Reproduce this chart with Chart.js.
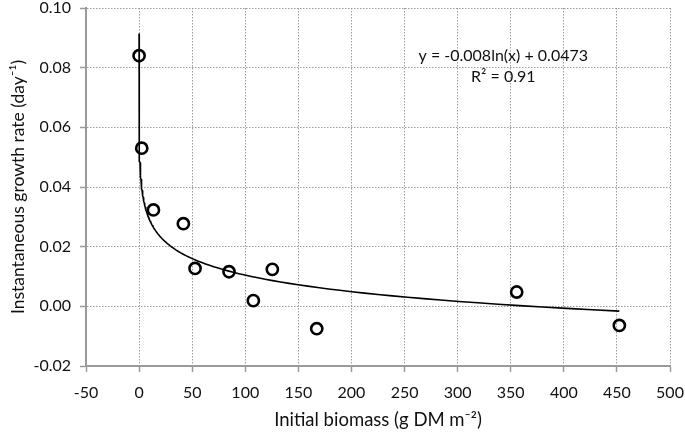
<!DOCTYPE html>
<html lang="en">
<head>
    <meta charset="UTF-8">
    <title>Instantaneous growth rate vs initial biomass</title>
    <script src="https://cdn.jsdelivr.net/npm/chart.js"></script>
    <style>
        html, body {
            margin: 0;
            padding: 0;
            background: #ffffff;
        }
        .wrap {
            width: 685px;
            height: 437px;
        }
    </style>
</head>
<body>
    <div class="wrap">
        <canvas id="growthChart" width="685" height="437"></canvas>
    </div>

    <script>
        // observed points: initial biomass (g DM m-2) and growth rate (day-1)
        const biomass = [0.004, 2.5, 13.5, 41.7, 52.7, 84.7, 107.6, 125.5, 167.3, 355.6, 452.3];
        const growthRate = [0.084, 0.053, 0.0323, 0.0277, 0.0127, 0.0116, 0.0019, 0.0124, -0.0075, 0.0048, -0.0064];

        // log trendline as printed on the chart
        const trendSlope = -0.008;
        const trendIntercept = 0.0473;
        const trendLabel = ['y = -0.008ln(x) + 0.0473', 'R\u00B2 = 0.91'];

        const xTicks = [-50, 0, 50, 100, 150, 200, 250, 300, 350, 400, 450, 500];
        const yTicks = [-0.02, 0.00, 0.02, 0.04, 0.06, 0.08, 0.10];

        const FONT = 'Lato';

        const points = biomass.map((x, i) => ({ x: x, y: growthRate[i] }));

        // sample the fitted curve between the smallest and largest biomass
        const trend = [];
        const xLo = Math.min(...biomass), xHi = Math.max(...biomass);
        for (let i = 0; i <= 200; i++) {
            const x = xLo * Math.pow(xHi / xLo, i / 200);
            trend.push({ x: x, y: trendSlope * Math.log(x) + trendIntercept });
        }

        const equationText = {
            id: 'equationText',
            afterDatasetsDraw(chart) {
                const ctx = chart.ctx;
                const xs = chart.scales.x, ys = chart.scales.y;
                ctx.save();
                ctx.font = '16px ' + FONT;
                ctx.fillStyle = '#111';
                ctx.textAlign = 'center';
                ctx.textBaseline = 'middle';
                ctx.fillText(trendLabel[0], xs.getPixelForValue(343), ys.getPixelForValue(0.0838));
                ctx.fillText(trendLabel[1], xs.getPixelForValue(343), ys.getPixelForValue(0.0768));
                ctx.restore();
            }
        };

        function setTicks(list) {
            return function(scale) {
                scale.ticks = list.map(v => ({ value: v }));
            };
        }

        new Chart(document.getElementById('growthChart'), {
            type: 'scatter',
            data: {
                datasets: [
                    {
                        label: 'observed',
                        data: points,
                        showLine: false,
                        pointStyle: 'circle',
                        pointRadius: 5.6,
                        pointBorderWidth: 2.6,
                        borderColor: '#000',
                        backgroundColor: 'rgba(0,0,0,0)',
                        order: 1
                    },
                    {
                        label: 'trend',
                        data: trend,
                        showLine: true,
                        pointRadius: 0,
                        borderColor: '#000',
                        borderWidth: 1.6,
                        order: 2
                    }
                ]
            },
            options: {
                responsive: false,
                animation: false,
                layout: { padding: 0, autoPadding: false },
                plugins: {
                    legend: { display: false },
                    tooltip: { enabled: false }
                },
                scales: {
                    x: {
                        type: 'linear',
                        min: -50,
                        max: 500,
                        afterBuildTicks: setTicks(xTicks),
                        afterFit: s => {
                            s.height = 71;
                            s.paddingLeft = 10;
                            s.paddingRight = 15;
                        },
                        grid: {
                            color: '#9c9c9c',
                            lineWidth: 1,
                            tickLength: 6,
                            tickColor: '#9a9a9a',
                            tickWidth: 1.5,
                            tickBorderDash: []
                        },
                        border: { display: true, color: '#9a9a9a', width: 2, dash: [1.5, 1.5] },
                        ticks: {
                            color: '#111',
                            padding: 11,
                            maxRotation: 0,
                            font: { family: FONT, size: 16 },
                            callback: v => String(v)
                        },
                        title: {
                            display: true,
                            text: 'Initial biomass (g DM m\u207B\u00B2)',
                            color: '#111',
                            font: { family: FONT, size: 18.5 },
                            padding: { top: 0, bottom: 6 }
                        }
                    },
                    y: {
                        type: 'linear',
                        min: -0.02,
                        max: 0.10,
                        afterBuildTicks: setTicks(yTicks),
                        afterFit: s => {
                            s.width = 86;
                            s.paddingTop = 8;
                            s.paddingBottom = 8;
                        },
                        grid: {
                            color: '#9c9c9c',
                            lineWidth: 1,
                            tickLength: 6,
                            tickColor: '#9a9a9a',
                            tickWidth: 1.5,
                            tickBorderDash: []
                        },
                        border: { display: true, color: '#9a9a9a', width: 2, dash: [1.5, 1.5] },
                        ticks: {
                            color: '#111',
                            padding: 9,
                            font: { family: FONT, size: 16, lineHeight: 1 },
                            callback: v => v.toFixed(2)
                        },
                        title: {
                            display: true,
                            text: 'Instantaneous growth rate (day\u207B\u00B9)',
                            color: '#111',
                            font: { family: FONT, size: 17.5 },
                            padding: { top: 8, bottom: 0 }
                        }
                    }
                }
            },
            plugins: [equationText]
        });
    </script>
</body>
</html>
